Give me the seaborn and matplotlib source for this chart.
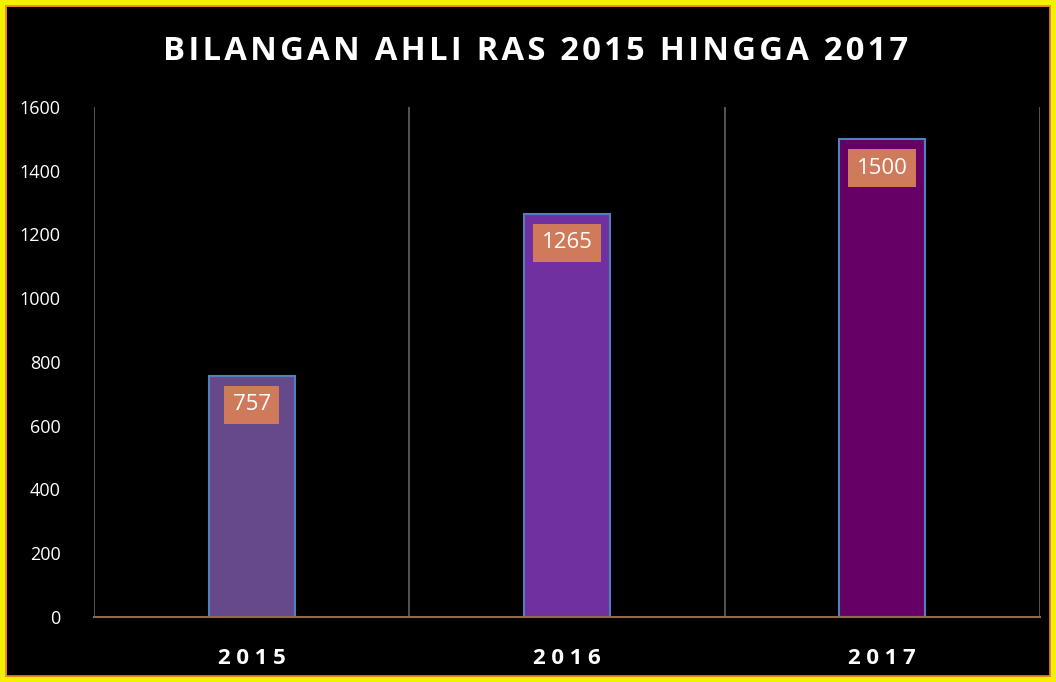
import matplotlib
matplotlib.use("Agg")
import matplotlib.pyplot as plt
import matplotlib.patches as mpatches
import seaborn as sns
import pandas as pd

years = ["2015", "2016", "2017"]
members = [757, 1265, 1500]
bar_colors = ["#65498A", "#7030A0", "#660066"]
yticks = [0, 200, 400, 600, 800, 1000, 1200, 1400, 1600]
title = "BILANGAN AHLI RAS 2015 HINGGA 2017"

sns.set_theme(style="dark")
plt.rcParams["font.family"] = ["Open Sans", "DejaVu Sans"]


def spaced(text, gap):
    """Widen letter spacing by putting a narrow space between characters."""
    return gap.join(text)


df = pd.DataFrame({"Tahun": years, "Ahli": members})

fig = plt.figure(figsize=(10.56, 6.82), dpi=100, facecolor="black")
ax = fig.add_axes([94 / 1056, 1 - 617 / 682, (1040 - 94) / 1056, (617 - 107) / 682])
ax.set_facecolor("black")

sns.barplot(data=df, x="Tahun", y="Ahli", hue="Tahun", palette=bar_colors,
            width=0.273, legend=False, ax=ax, saturation=1,
            edgecolor="#4F81BD", linewidth=1.5)

ax.set_ylim(0, 1600)
ax.set_xlim(-0.5, 2.5)
ax.set_yticks(yticks)
ax.set_yticklabels([str(v) for v in yticks], color="white", fontsize=13)
ax.set_xticks(range(len(years)))
ax.set_xticklabels([spaced(y, "\u2005") for y in years], color="white",
                   fontsize=16, fontweight="bold")
ax.tick_params(axis="both", length=0)
ax.tick_params(axis="y", pad=24)
ax.tick_params(axis="x", pad=22)
ax.set_xlabel("")
ax.set_ylabel("")
ax.grid(False)

# vertical separators between categories
for xb in [-0.5, 0.5, 1.5, 2.5]:
    ax.axvline(xb, color="#5A5A5A", linewidth=1.3, zorder=0)

for side in ["top", "right", "left"]:
    ax.spines[side].set_visible(False)
ax.spines["bottom"].set_color("#8C6A4A")
ax.spines["bottom"].set_linewidth(1.5)

# value labels inside the top of each bar
for i, v in enumerate(members):
    ax.annotate(str(v), xy=(i, v), xytext=(0, -21), textcoords="offset points",
                ha="center", va="center", color="white", fontsize=16,
                bbox=dict(boxstyle="square,pad=0.38", facecolor="#D07A5C",
                          edgecolor="none"))

fig.text(536 / 1056, 1 - 52 / 682, spaced(title, "\u200a"), ha="center", va="center",
         color="white", fontsize=23.6, fontweight="bold")

# yellow frame with thin orange inner line
fig.patches.append(mpatches.Rectangle((0, 0), 1, 1, transform=fig.transFigure,
                                      fill=False, edgecolor="#F2F200", linewidth=9))
fig.patches.append(mpatches.Rectangle((6 / 1056, 6 / 682), 1 - 12 / 1056, 1 - 12 / 682,
                                      transform=fig.transFigure, fill=False,
                                      edgecolor="#F08030", linewidth=1.2))

fig.savefig("out.png", dpi=100, facecolor="black")
